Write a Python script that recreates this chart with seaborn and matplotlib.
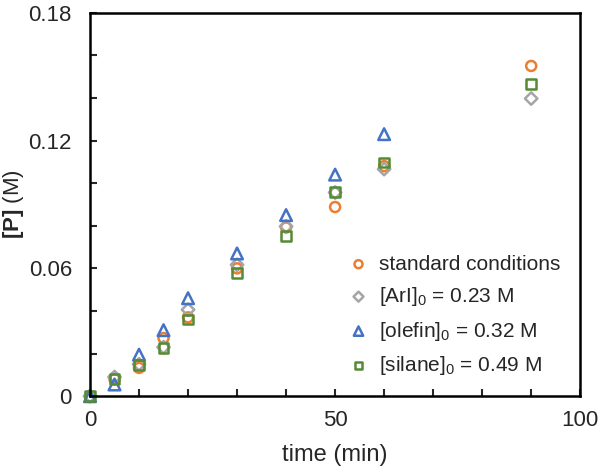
import pandas as pd
import matplotlib.pyplot as plt
import matplotlib.ticker as mticker
import seaborn as sns

# time points (min)
time_std = [0, 5, 10, 15, 20, 30, 40, 50, 60, 90]
time_olefin = [0, 5, 10, 15, 20, 30, 40, 50, 60]

# [P] (M)
p_standard = [0, 0.008, 0.0133, 0.0273, 0.037, 0.060, 0.0792, 0.0888, 0.108, 0.155]
p_aryl = [0, 0.009, 0.015, 0.023, 0.0406, 0.0617, 0.0797, 0.0956, 0.1066, 0.1397]
p_olefin = [0, 0.0055, 0.0195, 0.031, 0.046, 0.067, 0.085, 0.104, 0.123]
p_silane = [0, 0.0081, 0.0148, 0.0227, 0.036, 0.058, 0.075, 0.096, 0.1097, 0.1464]

labels = ['standard conditions',
          r'[ArI]$_0$ = 0.23 M',
          r'[olefin]$_0$ = 0.32 M',
          r'[silane]$_0$ = 0.49 M']

sns.set_style("ticks")
plt.rcParams['font.family'] = ['Liberation Sans', 'DejaVu Sans']
plt.rcParams['mathtext.fontset'] = 'custom'
plt.rcParams['mathtext.rm'] = 'Liberation Sans'
plt.rcParams['mathtext.it'] = 'Liberation Sans:italic'
plt.rcParams['mathtext.bf'] = 'Liberation Sans:bold'

fig = plt.figure(figsize=(6, 4.7), dpi=100)
ax = fig.add_axes([0.15, 0.157, 0.817, 0.816])

series = [
    (time_std, p_standard, 'o', '#ED7D31', 52),
    (time_std, p_aryl, 'D', '#A5A5A5', 40),
    (time_olefin, p_olefin, '^', '#4472C4', 70),
    (time_std, p_silane, 's', '#548B35', 50),
]
for (t, p, m, c, s), lab in zip(series, labels):
    df = pd.DataFrame({'time': t, 'P': p})
    sns.scatterplot(data=df, x='time', y='P', marker=m, s=s, facecolor='none',
                    edgecolor=c, linewidth=1.8, label=lab, ax=ax, clip_on=False)

ax.set_xlim(0, 100)
ax.set_ylim(0, 0.18)
ax.xaxis.set_major_locator(mticker.MultipleLocator(50))
ax.xaxis.set_minor_locator(mticker.MultipleLocator(10))
ax.yaxis.set_major_locator(mticker.MultipleLocator(0.06))
ax.yaxis.set_minor_locator(mticker.MultipleLocator(0.02))
ax.yaxis.set_major_formatter(mticker.FuncFormatter(lambda v, _: '0' if abs(v) < 1e-9 else f'{v:.2f}'))
ax.tick_params(which='both', direction='in', length=5, width=1.5, labelsize=16)
ax.tick_params(axis='x', pad=10)
ax.tick_params(axis='y', pad=13)
for sp in ax.spines.values():
    sp.set_visible(True)
    sp.set_linewidth(1.8)
    sp.set_color('black')

ax.set_xlabel('time (min)', fontsize=17, labelpad=9)
ax.set_ylabel(r'$\mathbf{[P]}$ (M)', fontsize=16, labelpad=2)

ax.legend(loc='lower right', bbox_to_anchor=(0.99, 0.012), frameon=False,
          fontsize=15, handletextpad=0.0, labelspacing=0.55, markerscale=0.8,
          borderpad=0.2)

fig.savefig('out.png', dpi=100)
